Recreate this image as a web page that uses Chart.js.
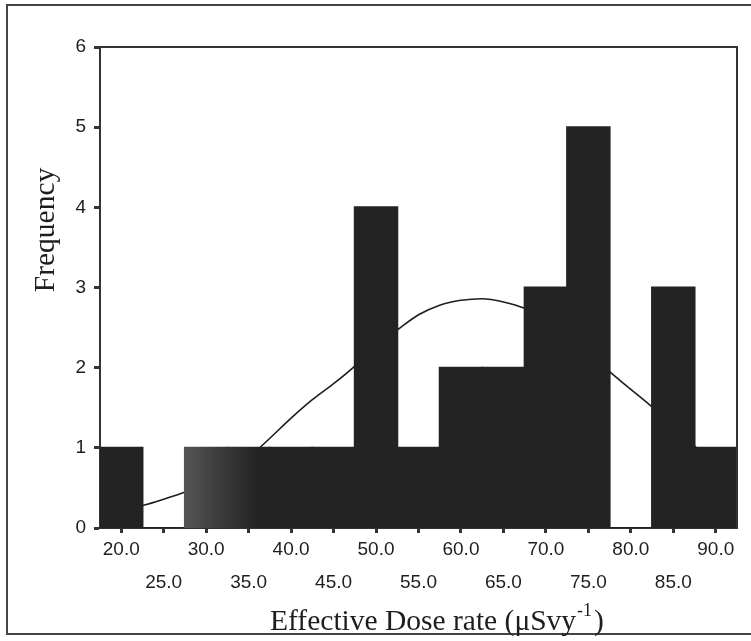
<!DOCTYPE html>
<html>
<head>
<meta charset="utf-8">
<script src="https://cdn.jsdelivr.net/npm/chart.js@4.4.1/dist/chart.umd.min.js"></script>
<style>
  html, body { margin: 0; padding: 0; background: #fff; }
  #wrap { width: 751px; height: 641px; position: relative; }
</style>
</head>
<body>
<div id="wrap"><canvas id="myChart" width="751" height="641"></canvas></div>
<script>
// histogram bins (centre of each 5-unit class) and counts
var binCenters = [20, 25, 30, 35, 40, 45, 50, 55, 60, 65, 70, 75, 80, 85, 90];
var frequencies = [1, 0, 1, 1, 1, 1, 4, 1, 2, 2, 3, 5, 0, 3, 1];

// fitted normal curve
var curveX = [20, 22.5, 25, 27.5, 30, 32.5, 35, 37.5, 40, 42.5, 45, 47.5, 50, 52.5, 55, 57.5,
              60, 62.5, 65, 67.5, 70, 72.5, 75, 77.5, 80, 82.5, 85, 87.5, 90];
var curveY = [0.22, 0.28, 0.36, 0.45, 0.57, 0.71, 0.88, 1.12, 1.37, 1.6, 1.8, 2.02, 2.28, 2.47, 2.66, 2.78,
              2.84, 2.86, 2.82, 2.74, 2.6, 2.42, 2.2, 1.95, 1.73, 1.51, 1.25, 1.02, 0.8];

var xTicks = [20, 25, 30, 35, 40, 45, 50, 55, 60, 65, 70, 75, 80, 85, 90];
var yTicks = [0, 1, 2, 3, 4, 5, 6];

var barData = binCenters.map(function (c, i) { return { x: c, y: frequencies[i] }; });
var curveData = curveX.map(function (c, i) { return { x: c, y: curveY[i] }; });

function barColor(context) {
    // the 30.0 bar (and the start of 35.0) is a lighter, streaky grey in the scan
    var chart = context.chart;
    var i = context.dataIndex;
    if ((i === 2 || i === 3) && chart.chartArea && chart.scales.x) {
        var x0 = chart.scales.x.getPixelForValue(27.5);
        var x1 = chart.scales.x.getPixelForValue(36);
        var g = chart.ctx.createLinearGradient(x0, 0, x1, 0);
        g.addColorStop(0, '#555555');
        g.addColorStop(0.45, '#3d3d3d');
        g.addColorStop(1, '#232323');
        return g;
    }
    return '#232323';
}

var framePlugin = {
    id: 'frame',
    beforeDraw: function (chart) {
        var c = chart.ctx;
        c.save();
        c.fillStyle = '#fff';
        c.fillRect(0, 0, chart.width, chart.height);
        // outer border of the figure
        c.strokeStyle = '#444';
        c.lineWidth = 2;
        c.beginPath();
        c.moveTo(752, 5);
        c.lineTo(7, 5);
        c.lineTo(7, 634);
        c.lineTo(752, 634);
        c.stroke();
        c.restore();
    },
    afterDraw: function (chart) {
        var a = chart.chartArea;
        var c = chart.ctx;
        c.save();
        c.strokeStyle = '#333';
        c.lineWidth = 2;
        c.beginPath();
        c.moveTo(a.left, a.top);
        c.lineTo(a.right, a.top);
        c.lineTo(a.right, a.bottom);
        c.stroke();

        c.fillStyle = '#1e1e1e';
        c.textBaseline = 'alphabetic';
        var main = 'Effective Dose rate (\u03bcSvy';
        var sup = '-1';
        var end = ')';
        c.font = '29.5px "Liberation Serif"';
        var w1 = c.measureText(main).width;
        var w3 = c.measureText(end).width;
        c.font = '18px "Liberation Serif"';
        var w2 = c.measureText(sup).width;
        var x0 = 437 - (w1 + w2 + w3 + 3) / 2;
        var yb = 630;
        c.font = '29.5px "Liberation Serif"';
        c.fillText(main, x0, yb);
        c.fillText(end, x0 + w1 + w2 + 3, yb);
        c.font = '18px "Liberation Serif"';
        c.fillText(sup, x0 + w1 + 1, yb - 14);

        c.translate(46, 230);
        c.rotate(-Math.PI / 2);
        c.textAlign = 'center';
        c.textBaseline = 'middle';
        c.font = '29.5px "Liberation Serif"';
        c.fillText('Frequency', 0, 0);
        c.restore();
    }
};

var ctx = document.getElementById('myChart').getContext('2d');

var myChart = new Chart(ctx, {
    type: 'bar',
    data: {
        datasets: [{
            type: 'bar',
            data: barData,
            backgroundColor: barColor,
            borderWidth: 0,
            inflateAmount: 1,
            barPercentage: 1,
            categoryPercentage: 1,
            order: 1
        }, {
            type: 'line',
            data: curveData,
            borderColor: '#1e1e1e',
            borderWidth: 1.6,
            pointRadius: 0,
            tension: 0.4,
            cubicInterpolationMode: 'monotone',
            fill: false,
            order: 2
        }]
    },
    plugins: [framePlugin],
    options: {
        responsive: false,
        animation: false,
        layout: {
            padding: { left: 10, right: 14, top: 47, bottom: 0 }
        },
        plugins: {
            legend: { display: false },
            tooltip: { enabled: false }
        },
        scales: {
            x: {
                type: 'linear',
                min: 17.5,
                max: 92.5,
                offset: false,
                afterBuildTicks: function (scale) {
                    scale.ticks = xTicks.map(function (v) { return { value: v }; });
                },
                afterFit: function (scale) { scale.height = 113; },
                grid: {
                    offset: false,
                    drawOnChartArea: false,
                    drawTicks: true,
                    tickLength: 5,
                    tickWidth: 3,
                    tickColor: '#333'
                },
                border: { display: true, color: '#333', width: 2 },
                ticks: {
                    autoSkip: false,
                    maxRotation: 0,
                    padding: 0,
                    color: '#1e1e1e',
                    font: { family: '"Liberation Sans"', size: 19, lineHeight: 1.75 },
                    callback: function (value, index) {
                        var s = Number(value).toFixed(1);
                        return index % 2 === 0 ? s : ['', s];
                    }
                }
            },
            y: {
                min: 0,
                max: 6,
                afterBuildTicks: function (scale) {
                    scale.ticks = yTicks.map(function (v) { return { value: v }; });
                },
                afterFit: function (scale) { scale.width = 90; },
                grid: {
                    drawOnChartArea: false,
                    drawTicks: true,
                    tickLength: 6,
                    tickWidth: 3,
                    tickColor: '#333'
                },
                border: { display: true, color: '#333', width: 2 },
                ticks: {
                    padding: 8,
                    color: '#1e1e1e',
                    font: { family: '"Liberation Sans"', size: 19 }
                }
            }
        }
    }
});
</script>
</body>
</html>
